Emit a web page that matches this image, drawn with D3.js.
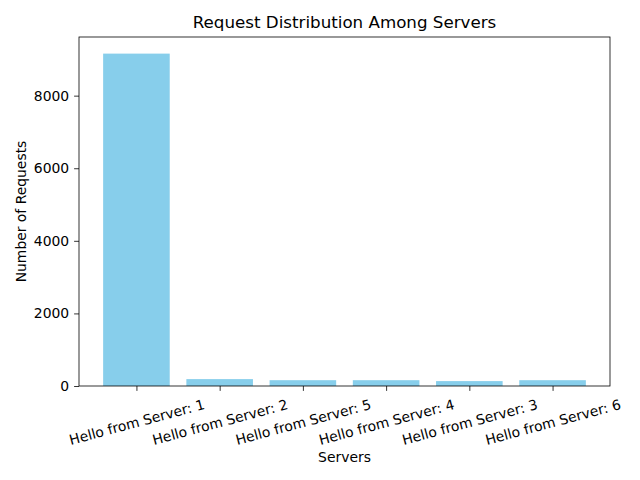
<!DOCTYPE html>
<html lang="en">
<head>
<meta charset="utf-8">
<title>Request Distribution Among Servers</title>
<script src="https://cdn.jsdelivr.net/npm/d3@7"></script>
<style>
  body { margin: 0; background: #fff; }
  svg text { font-family: "DejaVu Sans", sans-serif; fill: #000; }
  .axis path, .axis line { stroke: #000; stroke-width: 0.8px; }
  .axis text { font-size: 13.9px; }
</style>
</head>
<body>
<script>
var servers = ["Hello from Server: 1", "Hello from Server: 2", "Hello from Server: 5",
               "Hello from Server: 4", "Hello from Server: 3", "Hello from Server: 6"];
var requests = [9158, 190, 160, 160, 135, 160];
var yTicks = [0, 2000, 4000, 6000, 8000];

var w = 640, h = 480;
var padLeft = 79, padRight = 610, padTop = 37, padBottom = 386;

var svg = d3.select("body").append("svg")
  .attr("width", w)
  .attr("height", h);

// matplotlib-style: bar width 0.8, 5% margins
var xScale = d3.scaleLinear()
  .domain([-0.69, servers.length - 1 + 0.69])
  .range([padLeft, padRight]);

var yScale = d3.scaleLinear()
  .domain([0, d3.max(requests) * 1.05])
  .range([padBottom, padTop]);

svg.selectAll("rect.bar")
  .data(requests)
  .enter()
  .append("rect")
  .attr("class", "bar")
  .attr("x", function(d, i) { return xScale(i - 0.4); })
  .attr("width", function(d, i) { return xScale(i + 0.4) - xScale(i - 0.4); })
  .attr("y", function(d) { return yScale(d); })
  .attr("height", function(d) { return yScale(0) - yScale(d); })
  .attr("fill", "#87ceeb");

// frame
svg.append("rect")
  .attr("x", padLeft).attr("y", padTop)
  .attr("width", padRight - padLeft).attr("height", padBottom - padTop)
  .attr("fill", "none").attr("stroke", "#000").attr("stroke-width", 0.8);

var yAxis = d3.axisLeft(yScale)
  .tickValues(yTicks)
  .tickSize(4.9)
  .tickPadding(4.9)
  .tickFormat(d3.format("d"));

svg.append("g")
  .attr("class", "axis")
  .attr("transform", "translate(" + padLeft + ",0)")
  .call(yAxis)
  .call(function(g) { g.select(".domain").remove(); });

var xAxis = d3.axisBottom(xScale)
  .tickValues(d3.range(servers.length))
  .tickSize(4.9)
  .tickFormat(function(i) { return servers[i]; });

var gx = svg.append("g")
  .attr("class", "axis")
  .attr("transform", "translate(0," + padBottom + ")")
  .call(xAxis)
  .call(function(g) { g.select(".domain").remove(); });

gx.selectAll(".tick text")
  .attr("y", 0)
  .attr("dy", null)
  .attr("text-anchor", "middle")
  .attr("dominant-baseline", "central")
  .attr("transform", "translate(0,36) rotate(-15)");

svg.append("text")
  .attr("x", (padLeft + padRight) / 2)
  .attr("y", 28)
  .attr("text-anchor", "middle")
  .attr("font-size", "16.7px")
  .text("Request Distribution Among Servers");

svg.append("text")
  .attr("x", (padLeft + padRight) / 2)
  .attr("y", 462)
  .attr("text-anchor", "middle")
  .attr("font-size", "13.9px")
  .text("Servers");

svg.append("text")
  .attr("transform", "translate(26," + ((padTop + padBottom) / 2) + ") rotate(-90)")
  .attr("text-anchor", "middle")
  .attr("font-size", "13.9px")
  .text("Number of Requests");
</script>
</body>
</html>
